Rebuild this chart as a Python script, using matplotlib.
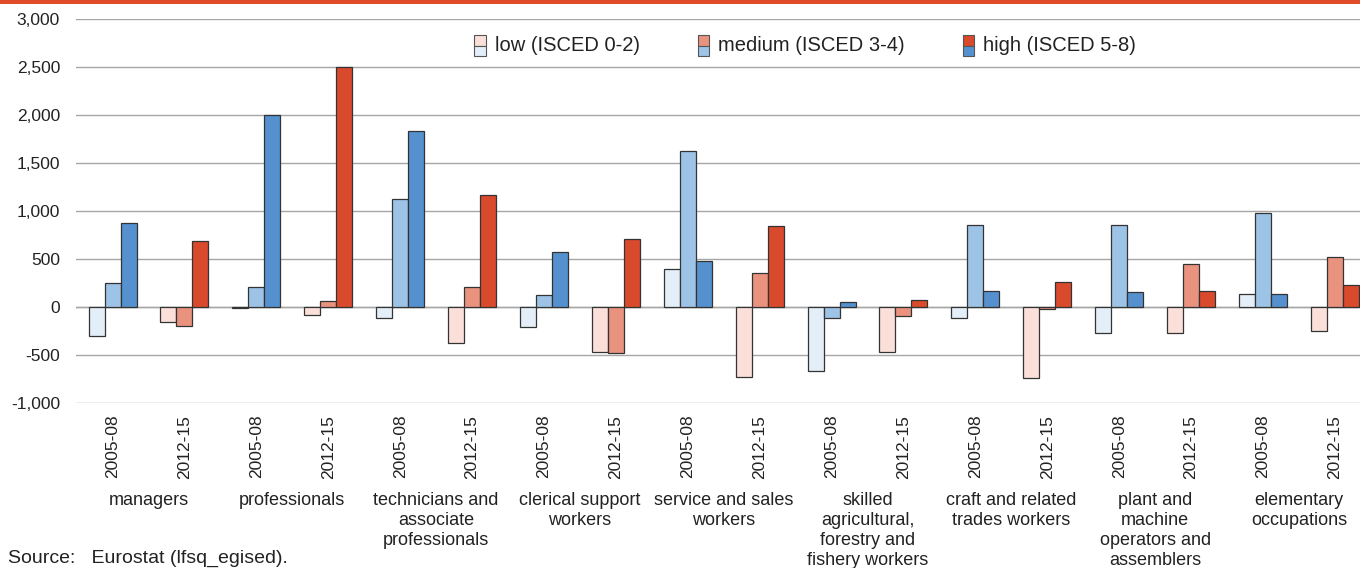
import matplotlib
matplotlib.use("Agg")
import matplotlib.pyplot as plt
import numpy as np
from matplotlib.patches import Rectangle, Patch
from matplotlib.legend_handler import HandlerBase

plt.rcParams['font.family'] = ['Liberation Sans', 'DejaVu Sans']

# data: change in employment (thousands), by occupation and education level
occupations = ["managers", "professionals", "technicians and\nassociate\nprofessionals",
               "clerical support\nworkers", "service and sales\nworkers",
               "skilled\nagricultural,\nforestry and\nfishery workers",
               "craft and related\ntrades workers",
               "plant and\nmachine\noperators and\nassemblers",
               "elementary\noccupations"]
periods = ["2005-08", "2012-15"]
levels = ["low (ISCED 0-2)", "medium (ISCED 3-4)", "high (ISCED 5-8)"]

low_0508 = [-300, -10, -118, -208, 399, -667, -118, -271, 135]
med_0508 = [247, 212, 1121, 128, 1622, -118, 851, 851, 976]
high_0508 = [878, 1997, 1837, 573, 483, 49, 163, 153, 132]

low_1215 = [-156, -87, -378, -465, -726, -469, -740, -267, -247]
med_1215 = [-194, 66, 212, -476, 354, -90, -17, 451, 517]
high_1215 = [684, 2500, 1163, 712, 844, 69, 257, 163, 233]

blues = ["#e3eef8", "#9dc3e6", "#5591cf"]
reds = ["#fbdfd9", "#e9937f", "#d9492b"]
txt = "#222222"


class TwoBoxHandler(HandlerBase):
    # red box on top, blue box below, like the original legend
    def create_artists(self, legend, orig_handle, xdescent, ydescent,
                       width, height, fontsize, trans):
        top, bottom = orig_handle
        sw, sh = 8.0, 7.5
        cy = height / 2.0 - ydescent - 1.5
        x0 = -xdescent + (width - sw) / 2.0
        r1 = Rectangle((x0, cy), sw, sh, facecolor=top.get_facecolor(),
                       edgecolor="#555555", lw=0.8, transform=trans)
        r2 = Rectangle((x0, cy - sh), sw, sh, facecolor=bottom.get_facecolor(),
                       edgecolor="#555555", lw=0.8, transform=trans)
        return [r1, r2]


fig = plt.figure(figsize=(13.6, 5.68), dpi=100)
ax = fig.add_axes([76 / 1360, 1 - 403 / 568, 1 - 76 / 1360, 384 / 568])

n = len(occupations)
pos_old = np.arange(n) * 2
pos_new = pos_old + 1
w = 0.2225

old = [low_0508, med_0508, high_0508]
new = [low_1215, med_1215, high_1215]
for i in range(3):
    off = (i - 1) * w
    ax.bar(pos_old + off, old[i], w, color=blues[i], edgecolor="#333333",
           linewidth=0.9, zorder=3)
    ax.bar(pos_new + off, new[i], w, color=reds[i], edgecolor="#333333",
           linewidth=0.9, zorder=3)

ax.set_ylim(-1000, 3000)
ax.set_xlim(-0.508, 2 * n - 1 + 0.35)
ax.set_yticks(np.arange(-1000, 3001, 500))
ax.set_yticklabels(["{:,}".format(v) for v in range(-1000, 3001, 500)])
ax.yaxis.grid(True, color="#a6a6a6", linewidth=1.0, zorder=0)
ax.axhline(0, color="#a6a6a6", linewidth=1.0, zorder=2)
for s in ax.spines.values():
    s.set_visible(False)

ax.set_xticks(np.arange(2 * n))
ax.set_xticklabels(periods * n, rotation=90, va="top", ha="center")
ax.tick_params(axis="both", length=0, labelsize=12.5, colors=txt)
ax.tick_params(axis="x", pad=8.5)
ax.tick_params(axis="y", pad=11.5)

for k, name in enumerate(occupations):
    ax.text(pos_old[k] + 0.5, -0.232, name, transform=ax.get_xaxis_transform(),
            ha="center", va="top", fontsize=13, color=txt, linespacing=1.24)

handles = [(Patch(facecolor=reds[i]), Patch(facecolor=blues[i])) for i in range(3)]
ax.legend(handles, levels, handler_map={tuple: TwoBoxHandler()}, ncol=3,
          loc="center", bbox_to_anchor=(0.568, 0.932), frameon=False,
          fontsize=14.5, handlelength=0.55, handletextpad=0.45,
          columnspacing=2.9, labelcolor=txt)

fig.text(8 / 1360, 1 - 558 / 568, "Source:   Eurostat (lfsq_egised).",
         fontsize=14, color=txt, va="center", ha="left")

# thin orange band along the top edge
fig.add_artist(Rectangle((0, 1 - 3.5 / 568), 1, 3.5 / 568, transform=fig.transFigure,
                         facecolor="#e04b2a", edgecolor="none"))

fig.savefig("out.png", dpi=100)
